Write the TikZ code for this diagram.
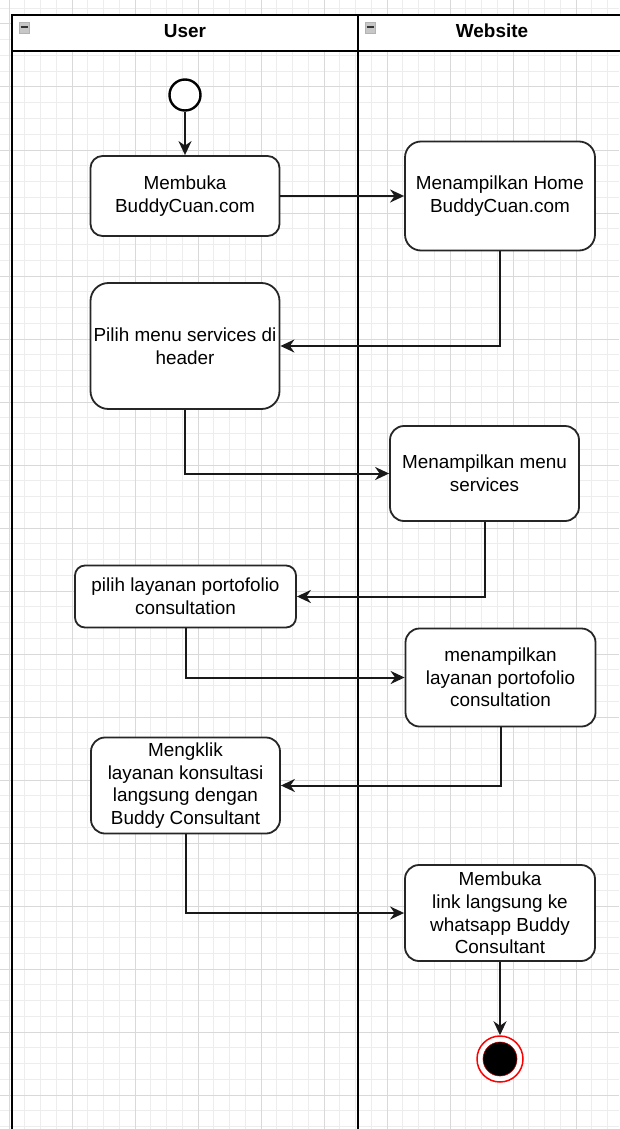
\documentclass[tikz,border=0pt]{standalone}
\usepackage{fontspec}
\setmainfont{Liberation Sans}
\usetikzlibrary{arrows.meta}
\begin{document}
\begin{tikzpicture}[x=1pt,y=-1pt,
  act/.style={draw=black!85, line width=1.8pt, fill=white, inner sep=0pt, align=center,
    font=\fontsize{18.9}{22.7}\selectfont},
  arr/.style={draw=black!90, line width=2pt, -{Stealth[length=14pt,width=13pt,inset=4.5pt]}},
  minorline/.style={draw=black!7, line width=1pt},
  majorline/.style={draw=black!15, line width=1pt},
  laneline/.style={draw=black, line width=1.6pt},
  hdr/.style={font=\fontsize{18.9}{22.7}\selectfont\bfseries, inner sep=0pt},
  icon/.style={fill=black!22, draw=black!30, line width=0.6pt},
  icondash/.style={draw=black!80, line width=2pt}
]
\useasboundingbox (0,0) rectangle (619,1129);
% grid
\begin{scope}
\clip (0,0) rectangle (619,1129);
\foreach \k in {0,...,39} {\pgfmathsetmacro\xx{9+15.75*\k}\draw[minorline] (\xx,0) -- (\xx,1129);}
\foreach \k in {-2,...,69} {\pgfmathsetmacro\yy{1095-15.75*\k}\draw[minorline] (0,\yy) -- (619,\yy);}
\foreach \k in {0,...,9} {\pgfmathsetmacro\xx{9+63*\k}\draw[majorline] (\xx,0) -- (\xx,1129);}
\foreach \k in {-1,...,17} {\pgfmathsetmacro\yy{1095-63*\k}\draw[majorline] (0,\yy) -- (619,\yy);}
\end{scope}
% swimlanes
\fill[white] (12,15) rectangle (626,51);
\draw[laneline] (12,1140) -- (12,15) -- (626,15);
\draw[laneline] (12,51) -- (626,51);
\draw[laneline] (358,15) -- (358,1140);
\draw[laneline] (626,15) -- (626,1140);
\node[hdr] (userhdr) at (185,31) {User};
\node[hdr] (webhdr) at (492,31) {Website};
\draw[icon] (19,22) rectangle (29,33);
\draw[icondash] (20.5,27) -- (27.5,27);
\draw[icon] (365,22) rectangle (375,33);
\draw[icondash] (366.5,27) -- (373.5,27);
% nodes
\node[circle, draw=black, line width=2.4pt, fill=white, minimum size=31pt, inner sep=0pt] (start) at (185,95) {};
\node[act, minimum width=189pt, minimum height=80pt, rounded corners=12pt] (membuka) at (185,196) {Membuka\\BuddyCuan.com};
\node[act, minimum width=190pt, minimum height=109pt, rounded corners=16pt] (home) at (500,196) {Menampilkan Home\\BuddyCuan.com};
\node[act, minimum width=189pt, minimum height=126pt, rounded corners=18pt] (pilih) at (185,346) {Pilih menu services di\\header};
\node[act, minimum width=189pt, minimum height=95pt, rounded corners=14pt] (menu) at (484.5,473.5) {Menampilkan menu\\services};
\node[act, minimum width=221pt, minimum height=62pt, rounded corners=10pt] (pl) at (185.5,596.5) {pilih layanan portofolio\\consultation};
\node[act, minimum width=190pt, minimum height=98pt, rounded corners=14pt] (ml) at (500.5,677.5) {menampilkan\\layanan portofolio\\consultation};
\node[act, minimum width=189pt, minimum height=96pt, rounded corners=14pt] (klik) at (185.5,785.5) {Mengklik\\layanan konsultasi\\langsung dengan\\Buddy Consultant};
\node[act, minimum width=190pt, minimum height=96pt, rounded corners=14pt] (link) at (500,913) {Membuka\\link langsung ke\\whatsapp Buddy\\Consultant};
\node[circle, draw=red, line width=1.5pt, fill=white, minimum size=46pt, inner sep=0pt] (end) at (500,1059) {};
\node[circle, draw=red!70!black, line width=0.6pt, fill=black, minimum size=34pt, inner sep=0pt] (endcore) at (end) {};
% connectors
\draw[arr] (start) -- (membuka);
\draw[arr] (membuka) -- (home);
\draw[arr] (home.south) |- (pilih.east);
\draw[arr] (pilih.south) |- (menu.west);
\draw[arr] (menu.south) |- (pl.east);
\draw[arr] (pl.south) |- (ml.west);
\draw[arr] (ml.south) |- (klik.east);
\draw[arr] (klik.south) |- (link.west);
\draw[arr] (link.south) -- (end.north);
\end{tikzpicture}
\end{document}
